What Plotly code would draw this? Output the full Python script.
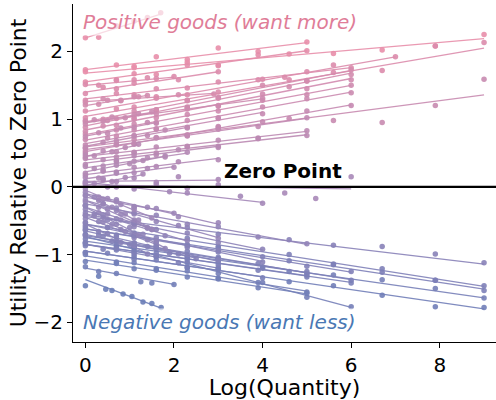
import plotly.graph_objects as go

# ---------------- data ----------------
# Each good: x range end, fitted line start/end (utility), and observed points.
GOOD_X_END = [
    1.7, 9, 5, 5, 3, 6, 2.9, 7, 9, 6, 6, 6, 6, 6, 4, 9, 6, 5, 5, 3, 2.3, 3, 2, 3, 1.6, 1.4, 2.3, 5, 2, 4,
    1.5, 1.2, 1.8, 1.3,
    9, 9, 9, 9, 9, 6, 6, 6, 6, 5, 5, 5, 5, 1.71, 2, 4, 6, 3, 3, 1.5, 2.3, 1.6, 4, 4, 3, 4, 2, 1.4, 5, 3, 1.5, 1.4,
    1.5, 1.8, 1.2, 2.5,
]
LINE_Y_START = [
    2.20, 1.68, 1.73, 1.55, 1.40, 1.30, 1.26, 1.11, 1.04, 0.96, 0.90, 0.84, 0.77, 0.69, 0.64, 0.59, 0.52, 0.45,
    0.40, 0.35, 0.28, 0.18, 0.12, 0.08, 0.75, 1.20, 0.60, 0.55, 1.50, 0.95,
    0.95, 0.45, 0.22, 0.02,
    -0.44, -0.55, -0.62, -0.80, -0.95, -0.62, -0.75, -0.85, -0.73, -0.72, -0.85, -1.02, -1.08, -1.37, -1.20,
    0.07, 0.03, -0.10, -0.20, -0.30, -0.35, -0.45, -0.40, -0.55, -0.85, -0.95, -0.15, -0.55, -0.25, -0.65,
    -0.05, -0.20,
    -0.10, -0.30, -0.40, -0.70,
]
LINE_Y_END = [
    2.55, 2.19, 2.13, 2.01, 1.70, 1.76, 1.38, 1.92, 2.05, 1.72, 1.68, 1.60, 1.50, 1.40, 1.10, 1.36, 1.21, 0.82,
    0.77, 0.60, 0.50, 0.42, 0.30, 0.10, 0.95, 1.35, 0.88, 1.01, 1.62, 1.30,
    1.10, 0.62, 0.45, 0.18,
    -1.14, -1.47, -1.51, -1.64, -1.80, -1.26, -1.37, -1.41, -1.78, -1.27, -1.31, -1.54, -1.58, -1.79, -1.44,
    -0.23, -0.03, -0.55, -0.75, -0.62, -0.80, -0.85, -0.93, -1.10, -1.20, -1.33, -0.38, -0.98, -0.85, -1.10,
    -0.45, -0.60,
    -0.62, -0.90, -0.72, -1.05,
]
POINT_X = [
    [0, 0.3, 0.7, 1.1, 1.4, 1.7],
    [0, 1.1, 2.3, 3.0, 4.6, 5.6, 6.7, 7.9, 9.0],
    [0, 0.7, 1.1, 1.6, 2.3, 3.0, 3.9, 5.0],
    [0, 0.7, 1.1, 1.6, 2.3, 3.0, 3.9, 5.0],
    [0, 0.4, 0.7, 1.1, 1.6, 2.1, 3.0],
    [0, 0.7, 1.1, 1.6, 2.3, 3.0, 4.0, 5.0, 6.0],
    [0, 0.4, 0.8, 1.2, 1.6, 2.1, 2.9],
    [0, 0.7, 1.6, 2.3, 3.9, 4.5, 5.6, 7.0],
    [0, 1.1, 2.3, 3.0, 4.6, 5.6, 6.7, 7.9, 9.0],
    [0, 0.4, 1.1, 1.6, 2.3, 3.0, 4.0, 5.0, 6.0],
    [0, 0.7, 1.1, 1.6, 2.3, 3.0, 4.6, 5.0, 6.0],
    [0, 0.4, 0.7, 1.1, 1.6, 2.3, 3.0, 4.0, 5.0, 6.0],
    [0, 0.7, 1.1, 1.6, 2.3, 3.0, 4.0, 5.0, 6.0],
    [0, 0.7, 1.1, 1.6, 2.3, 3.0, 4.0, 5.0, 6.0],
    [0, 0.5, 1.1, 1.6, 2.3, 3.0, 4.0],
    [0, 1.1, 2.3, 3.0, 4.6, 5.6, 6.7, 7.9, 9.0],
    [0, 0.7, 1.1, 1.6, 2.3, 3.0, 4.0, 5.0, 6.0],
    [0, 0.7, 1.1, 1.6, 2.3, 3.0, 3.9, 5.0],
    [0, 0.7, 1.1, 1.6, 2.3, 3.0, 3.9, 5.0],
    [0, 0.4, 0.7, 1.1, 1.6, 2.1, 3.0],
    [0, 0.4, 0.7, 1.1, 1.4, 1.8, 2.3],
    [0, 0.4, 0.7, 1.1, 1.6, 2.1, 3.0],
    [0, 0.3, 0.7, 1.1, 1.4, 2.0],
    [0, 0.4, 0.7, 1.1, 1.6, 2.1, 3.0],
    [0, 0.3, 0.5, 0.8, 1.1, 1.4, 1.6],
    [0, 0.3, 0.5, 0.8, 1.1, 1.4],
    [0, 0.4, 0.7, 1.1, 1.4, 1.8, 2.3],
    [0, 0.7, 1.1, 1.6, 2.3, 3.0, 3.9, 5.0],
    [0, 0.3, 0.7, 1.1, 1.4, 2.0],
    [0, 0.5, 1.1, 1.6, 2.3, 3.0, 4.0],
    [0, 0.2, 0.4, 0.6, 0.9, 1.2, 1.5],
    [0, 0.2, 0.4, 0.6, 0.9, 1.2],
    [0, 0.2, 0.4, 0.7, 1.0, 1.3, 1.8],
    [0, 0.2, 0.4, 0.6, 0.9, 1.3],
    # negative goods
    [0, 1.1, 2.3, 3.0, 4.6, 5.6, 6.7, 7.9, 9.0],
    [0, 1.1, 2.3, 3.0, 4.6, 5.6, 6.7, 7.9, 9.0],
    [0, 1.1, 2.3, 3.0, 4.6, 5.6, 6.7, 7.9, 9.0],
    [0, 1.1, 2.3, 3.0, 4.6, 5.6, 6.7, 7.9, 9.0],
    [0, 1.1, 2.3, 3.0, 4.6, 5.6, 6.7, 7.9, 9.0],
    [0, 0.7, 1.1, 1.6, 2.3, 3.0, 4.0, 5.0, 6.0],
    [0, 0.7, 1.1, 1.6, 2.3, 3.0, 4.0, 5.0, 6.0],
    [0, 0.7, 1.1, 1.6, 2.3, 3.0, 4.0, 5.0, 6.0],
    [0, 0.7, 1.1, 1.6, 2.3, 3.0, 4.0, 5.0, 6.0],
    [0, 0.7, 1.1, 1.6, 2.3, 3.0, 3.9, 5.0],
    [0, 0.7, 1.1, 1.6, 2.3, 3.0, 3.9, 5.0],
    [0, 0.7, 1.1, 1.6, 2.3, 3.0, 3.9, 5.0],
    [0, 0.7, 1.1, 1.6, 2.3, 3.0, 3.9, 5.0],
    [0, 0.3, 0.46, 0.6, 0.85, 1.05, 1.3, 1.5, 1.71],
    [0, 0.3, 0.7, 1.25, 1.5, 2.0],
    [0, 0.5, 1.1, 1.9, 2.3, 3.5, 4.0],
    [0, 0.7, 1.6, 2.3, 3.0, 4.5, 5.2, 6.0],
    [0, 0.4, 0.7, 1.1, 1.6, 2.1, 3.0],
    [0, 0.4, 0.7, 1.1, 1.6, 2.1, 3.0],
    [0, 0.3, 0.5, 0.8, 1.1, 1.5],
    [0, 0.4, 0.7, 1.1, 1.4, 1.8, 2.3],
    [0, 0.3, 0.5, 0.8, 1.1, 1.4, 1.6],
    [0, 0.5, 1.1, 1.6, 2.3, 3.0, 4.0],
    [0, 0.5, 1.1, 1.6, 2.3, 3.0, 4.0],
    [0, 0.4, 0.7, 1.1, 1.6, 2.1, 3.0],
    [0, 0.5, 1.1, 1.6, 2.3, 3.0, 4.0],
    [0, 0.3, 0.7, 1.1, 1.4, 2.0],
    [0, 0.3, 0.5, 0.8, 1.1, 1.4],
    [0, 0.7, 1.1, 1.6, 2.3, 3.0, 3.9, 5.0],
    [0, 0.4, 0.7, 1.1, 1.6, 2.1, 3.0],
    [0, 0.3, 0.5, 0.8, 1.1, 1.5],
    [0, 0.3, 0.5, 0.8, 1.1, 1.4],
    [0, 0.2, 0.4, 0.6, 0.9, 1.2, 1.5],
    [0, 0.2, 0.4, 0.7, 1.0, 1.3, 1.6, 1.8],
    [0, 0.2, 0.4, 0.6, 0.9, 1.2],
    [0, 0.3, 0.6, 1.0, 1.4, 1.9, 2.5],
]
POINT_Y = [
    [2.20, 2.21, 2.38, 2.45, 2.50, 2.57],
    [1.73, 1.76, 1.84, 1.80, 1.96, 1.97, 2.02, 2.08, 2.25],
    [1.70, 1.80, 1.78, 1.92, 1.88, 2.05, 2.00, 2.14],
    [1.55, 1.58, 1.67, 1.66, 1.80, 1.79, 1.95, 2.01],
    [1.38, 1.47, 1.45, 1.53, 1.60, 1.58, 1.70],
    [1.28, 1.38, 1.36, 1.45, 1.46, 1.55, 1.59, 1.70, 1.76],
    [1.25, 1.30, 1.28, 1.33, 1.31, 1.36, 1.37],
    [1.12, 1.15, 1.33, 1.36, 1.58, 1.62, 1.80, 1.92],
    [1.02, 1.18, 1.27, 1.40, 1.58, 1.69, 1.72, 2.08, 2.13],
    [0.98, 1.00, 1.12, 1.14, 1.28, 1.31, 1.50, 1.57, 1.73],
    [0.88, 1.01, 1.02, 1.14, 1.18, 1.32, 1.48, 1.56, 1.66],
    [0.82, 0.90, 0.91, 1.00, 1.02, 1.15, 1.20, 1.37, 1.45, 1.58],
    [0.78, 0.84, 0.93, 0.95, 1.07, 1.12, 1.28, 1.36, 1.50],
    [0.70, 0.75, 0.84, 0.86, 0.98, 1.02, 1.18, 1.30, 1.39],
    [0.62, 0.72, 0.76, 0.85, 0.88, 1.01, 1.08],
    [0.57, 0.70, 0.77, 0.88, 1.01, 0.98, 0.95, 1.20, 1.59],
    [0.50, 0.62, 0.63, 0.73, 0.76, 0.89, 0.96, 1.12, 1.20],
    [0.44, 0.52, 0.51, 0.59, 0.60, 0.69, 0.72, 0.83],
    [0.42, 0.44, 0.50, 0.50, 0.59, 0.60, 0.71, 0.76],
    [0.33, 0.40, 0.39, 0.46, 0.47, 0.55, 0.58],
    [0.30, 0.31, 0.37, 0.38, 0.43, 0.44, 0.51],
    [0.17, 0.23, 0.22, 0.29, 0.30, 0.37, 0.40],
    [0.14, 0.13, 0.20, 0.21, 0.27, 0.29],
    [0.06, 0.12, 0.08, 0.13, 0.07, 0.15, 0.11],
    [0.74, 0.80, 0.79, 0.87, 0.88, 0.95, 0.94],
    [1.21, 1.22, 1.28, 1.27, 1.33, 1.35],
    [0.58, 0.66, 0.68, 0.75, 0.76, 0.84, 0.87],
    [0.53, 0.63, 0.64, 0.72, 0.75, 0.85, 0.89, 1.02],
    [1.51, 1.50, 1.57, 1.58, 1.61, 1.63],
    [0.96, 0.98, 1.07, 1.08, 1.17, 1.19, 1.31],
    [0.93, 0.99, 0.97, 1.03, 1.02, 1.08, 1.11],
    [0.47, 0.46, 0.53, 0.52, 0.58, 0.63],
    [0.20, 0.27, 0.25, 0.32, 0.34, 0.39, 0.46],
    [0.03, 0.05, 0.10, 0.08, 0.14, 0.19],
    # negative goods
    [-0.42, -0.55, -0.60, -0.70, -0.78, -0.86, -0.88, -0.99, -1.12],
    [-0.53, -0.68, -0.76, -0.88, -1.00, -1.14, -1.21, -1.38, -1.46],
    [-0.64, -0.71, -0.87, -0.90, -1.09, -1.15, -1.26, -1.38, -1.53],
    [-0.82, -0.88, -1.03, -1.06, -1.25, -1.30, -1.37, -1.50, -1.64],
    [-0.97, -1.03, -1.19, -1.21, -1.40, -1.46, -1.60, -1.77, -1.78],
    [-0.60, -0.71, -0.72, -0.82, -0.85, -0.96, -1.03, -1.17, -1.25],
    [-0.77, -0.80, -0.88, -0.90, -1.01, -1.04, -1.18, -1.25, -1.38],
    [-0.84, -0.93, -0.94, -1.02, -1.05, -1.15, -1.20, -1.33, -1.42],
    [-0.71, -0.87, -0.90, -1.03, -1.12, -1.28, -1.41, -1.63, -1.77],
    [-0.70, -0.82, -0.83, -0.92, -0.95, -1.07, -1.13, -1.28],
    [-0.87, -0.90, -0.97, -0.98, -1.08, -1.11, -1.23, -1.30],
    [-1.00, -1.11, -1.12, -1.21, -1.24, -1.35, -1.41, -1.55],
    [-1.10, -1.13, -1.21, -1.23, -1.33, -1.36, -1.49, -1.57],
    [-1.46, -1.32, -1.51, -1.53, -1.58, -1.62, -1.70, -1.72, -1.78],
    [-1.18, -1.25, -1.28, -1.40, -1.42, -1.44],
    [0.08, 0.00, -0.03, -0.07, -0.09, -0.14, -0.24],
    [0.05, 0.00, 0.04, -0.02, 0.03, -0.09, -0.17, 0.15],
    [-0.08, -0.18, -0.19, -0.29, -0.32, -0.44, -0.53],
    [-0.22, -0.25, -0.35, -0.38, -0.51, -0.57, -0.76],
    [-0.28, -0.38, -0.40, -0.49, -0.52, -0.63],
    [-0.33, -0.45, -0.47, -0.59, -0.60, -0.72, -0.79],
    [-0.47, -0.51, -0.60, -0.63, -0.75, -0.78, -0.86],
    [-0.38, -0.49, -0.53, -0.63, -0.68, -0.82, -0.92],
    [-0.57, -0.60, -0.72, -0.75, -0.89, -0.94, -1.11],
    [-0.83, -0.92, -0.91, -1.00, -1.02, -1.12, -1.19],
    [-0.97, -0.98, -1.07, -1.08, -1.19, -1.22, -1.34],
    [-0.13, -0.20, -0.22, -0.30, -0.30, -0.39],
    [-0.53, -0.66, -0.69, -0.82, -0.87, -0.99],
    [-0.27, -0.31, -0.40, -0.42, -0.55, -0.59, -0.74, -0.84],
    [-0.63, -0.73, -0.74, -0.83, -0.87, -0.99, -1.08],
    [-0.03, -0.15, -0.17, -0.26, -0.33, -0.46],
    [-0.19, -0.30, -0.33, -0.40, -0.49, -0.61],
    [-0.12, -0.15, -0.25, -0.30, -0.40, -0.49, -0.63],
    [-0.28, -0.40, -0.41, -0.55, -0.60, -0.70, -0.80, -0.91],
    [-0.42, -0.43, -0.52, -0.55, -0.66, -0.71],
    [-0.72, -0.71, -0.80, -0.85, -0.88, -0.98, -1.06],
]

X_TICKS = [0, 2, 4, 6, 8]
Y_TICKS = [-2, -1, 0, 1, 2]
Y_TICK_TEXT = ["\u22122", "\u22121", "0", "1", "2"]

# ---------------- styling helpers ----------------
STOPS = [(-1.5, (108, 126, 184)), (0.0, (168, 136, 184)), (1.9, (232, 142, 170))]


def colour(v, alpha=1.0):
    if v <= STOPS[0][0]:
        c = STOPS[0][1]
    elif v >= STOPS[-1][0]:
        c = STOPS[-1][1]
    else:
        for (a, ca), (b, cb) in zip(STOPS[:-1], STOPS[1:]):
            if a <= v <= b:
                t = (v - a) / (b - a)
                c = tuple(ca[i] + (cb[i] - ca[i]) * t for i in range(3))
                break
    return f"rgba({int(c[0])},{int(c[1])},{int(c[2])},{alpha})"


fig = go.Figure()

for xe, y0, y1, px, py in zip(GOOD_X_END, LINE_Y_START, LINE_Y_END, POINT_X, POINT_Y):
    mid = (y0 + y1) / 2
    fig.add_trace(go.Scatter(
        x=px, y=py, mode="markers",
        marker=dict(size=5.5, color=colour(mid, 0.9), line=dict(width=0)),
        hoverinfo="skip", showlegend=False,
    ))
    fig.add_trace(go.Scatter(
        x=[0, xe], y=[y0, y1], mode="lines",
        line=dict(color=colour(mid, 0.9), width=1.3),
        hoverinfo="skip", showlegend=False,
    ))

FONT = "DejaVu Sans"

fig.add_shape(type="line", xref="paper", yref="y", x0=0, x1=1, y0=0, y1=0,
              line=dict(color="black", width=2.2), layer="above")

fig.add_annotation(
    x=3.08, y=0.235, xref="x", yref="y", text="<b>Zero Point</b>", showarrow=False,
    xanchor="left", yanchor="middle",
    font=dict(family=FONT, size=20, color="black",
              shadow="2px 0 1px white, -2px 0 1px white, 0 2px 1px white, 0 -2px 1px white"),
)
fig.add_annotation(
    x=-0.09, y=2.43, xref="x", yref="y", text="<i>Positive goods (want more)</i>", showarrow=False,
    xanchor="left", yanchor="middle", bgcolor="rgba(255,255,255,0.65)", borderpad=1,
    font=dict(family=FONT, size=20, color="#e07d98"),
)
fig.add_annotation(
    x=-0.09, y=-2.0, xref="x", yref="y", text="<i>Negative goods (want less)</i>", showarrow=False,
    xanchor="left", yanchor="middle", bgcolor="rgba(255,255,255,0.65)", borderpad=1,
    font=dict(family=FONT, size=20, color="#4a78b4"),
)

fig.update_layout(
    width=496, height=400,
    margin=dict(l=73, r=0, t=4, b=58),
    plot_bgcolor="white", paper_bgcolor="white",
    font=dict(family=FONT, color="black"),
    xaxis=dict(
        range=[-0.28, 9.27], tickvals=X_TICKS, ticks="outside", ticklen=5, tickwidth=1.2,
        tickcolor="black", showline=True, linecolor="black", linewidth=1.2, showgrid=False,
        zeroline=False, tickfont=dict(size=20),
        title=dict(text="Log(Quantity)", font=dict(size=22), standoff=1),
    ),
    yaxis=dict(
        range=[-2.29, 2.70], tickvals=Y_TICKS, ticktext=Y_TICK_TEXT,
        ticks="outside", ticklen=5, tickwidth=1.2,
        tickcolor="black", showline=True, linecolor="black", linewidth=1.2, showgrid=False,
        zeroline=False, tickfont=dict(size=20),
        title=dict(text="Utility Relative to Zero Point", font=dict(size=22), standoff=0),
    ),
)

fig.write_html("out.html")
